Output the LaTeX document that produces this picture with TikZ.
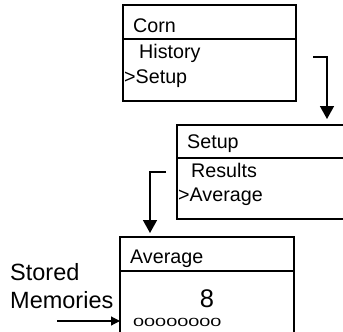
\documentclass[tikz,border=0pt]{standalone}
\usepackage{fontspec}
\setmainfont{Liberation Sans}
\usetikzlibrary{arrows.meta}
\begin{document}
\begin{tikzpicture}[x=1pt,y=-1pt,
  menubox/.style={draw,line width=1.3pt,inner sep=0pt},
  divider/.style={line width=1.3pt},
  label/.style={anchor=base west,inner sep=0pt,font=\fontsize{19.7}{20}\selectfont},
  sidelabel/.style={anchor=base west,inner sep=0pt,font=\fontsize{23.5}{24}\selectfont},
  flow/.style={line width=1.6pt,-{Triangle[width=14pt,length=13pt]}},
  pointer/.style={line width=1.2pt,-{Triangle[width=9pt,length=9pt]}}]
\useasboundingbox (0,0) rectangle (343,332);
\clip (0,0) rectangle (343,332);

% menu screens
\draw[menubox] (123,5) rectangle (296,101);
\draw[divider] (122,39) -- (296,39);
\draw[menubox] (177,125) rectangle (360,219);
\draw[divider] (177,158) -- (360,158);
\draw[menubox] (120,237) rectangle (294,345);
\draw[divider] (120,271) -- (294,271);

% screen texts
\node[label] (corn) at (133,32) {Corn};
\node[label] (history) at (139,58) {History};
\node[label] (setup1) at (124,83) {>Setup};
\node[label] (setup2) at (187,148) {Setup};
\node[label] (results) at (191,177) {Results};
\node[label] (avg1) at (178,201) {>Average};
\node[label] (avg2) at (130,263) {Average};
\node[anchor=base,inner sep=0pt,font=\fontsize{25.5}{26}\selectfont] (value) at (207,307) {8};
\node[anchor=base west,inner sep=0pt,font=\fontsize{11.8}{12}\selectfont] (mem) at (133,326) {\scalebox{1.68}[1]{00000000}};

% side label
\node[sidelabel] (stored) at (10,280) {Stored};
\node[sidelabel] (memories) at (10,308) {Memories};

% connectors
\coordinate (a1s) at (313,57);
\coordinate (a1e) at (327,119);
\coordinate (a2s) at (166,172);
\coordinate (a2e) at (150,233);
\coordinate (a3s) at (57,321);
\coordinate (a3e) at (120,321);
\draw[flow] (a1s) -| (a1e);
\draw[flow] (a2s) -| (a2e);
\draw[pointer] (a3s) -- (a3e);
\end{tikzpicture}
\end{document}
